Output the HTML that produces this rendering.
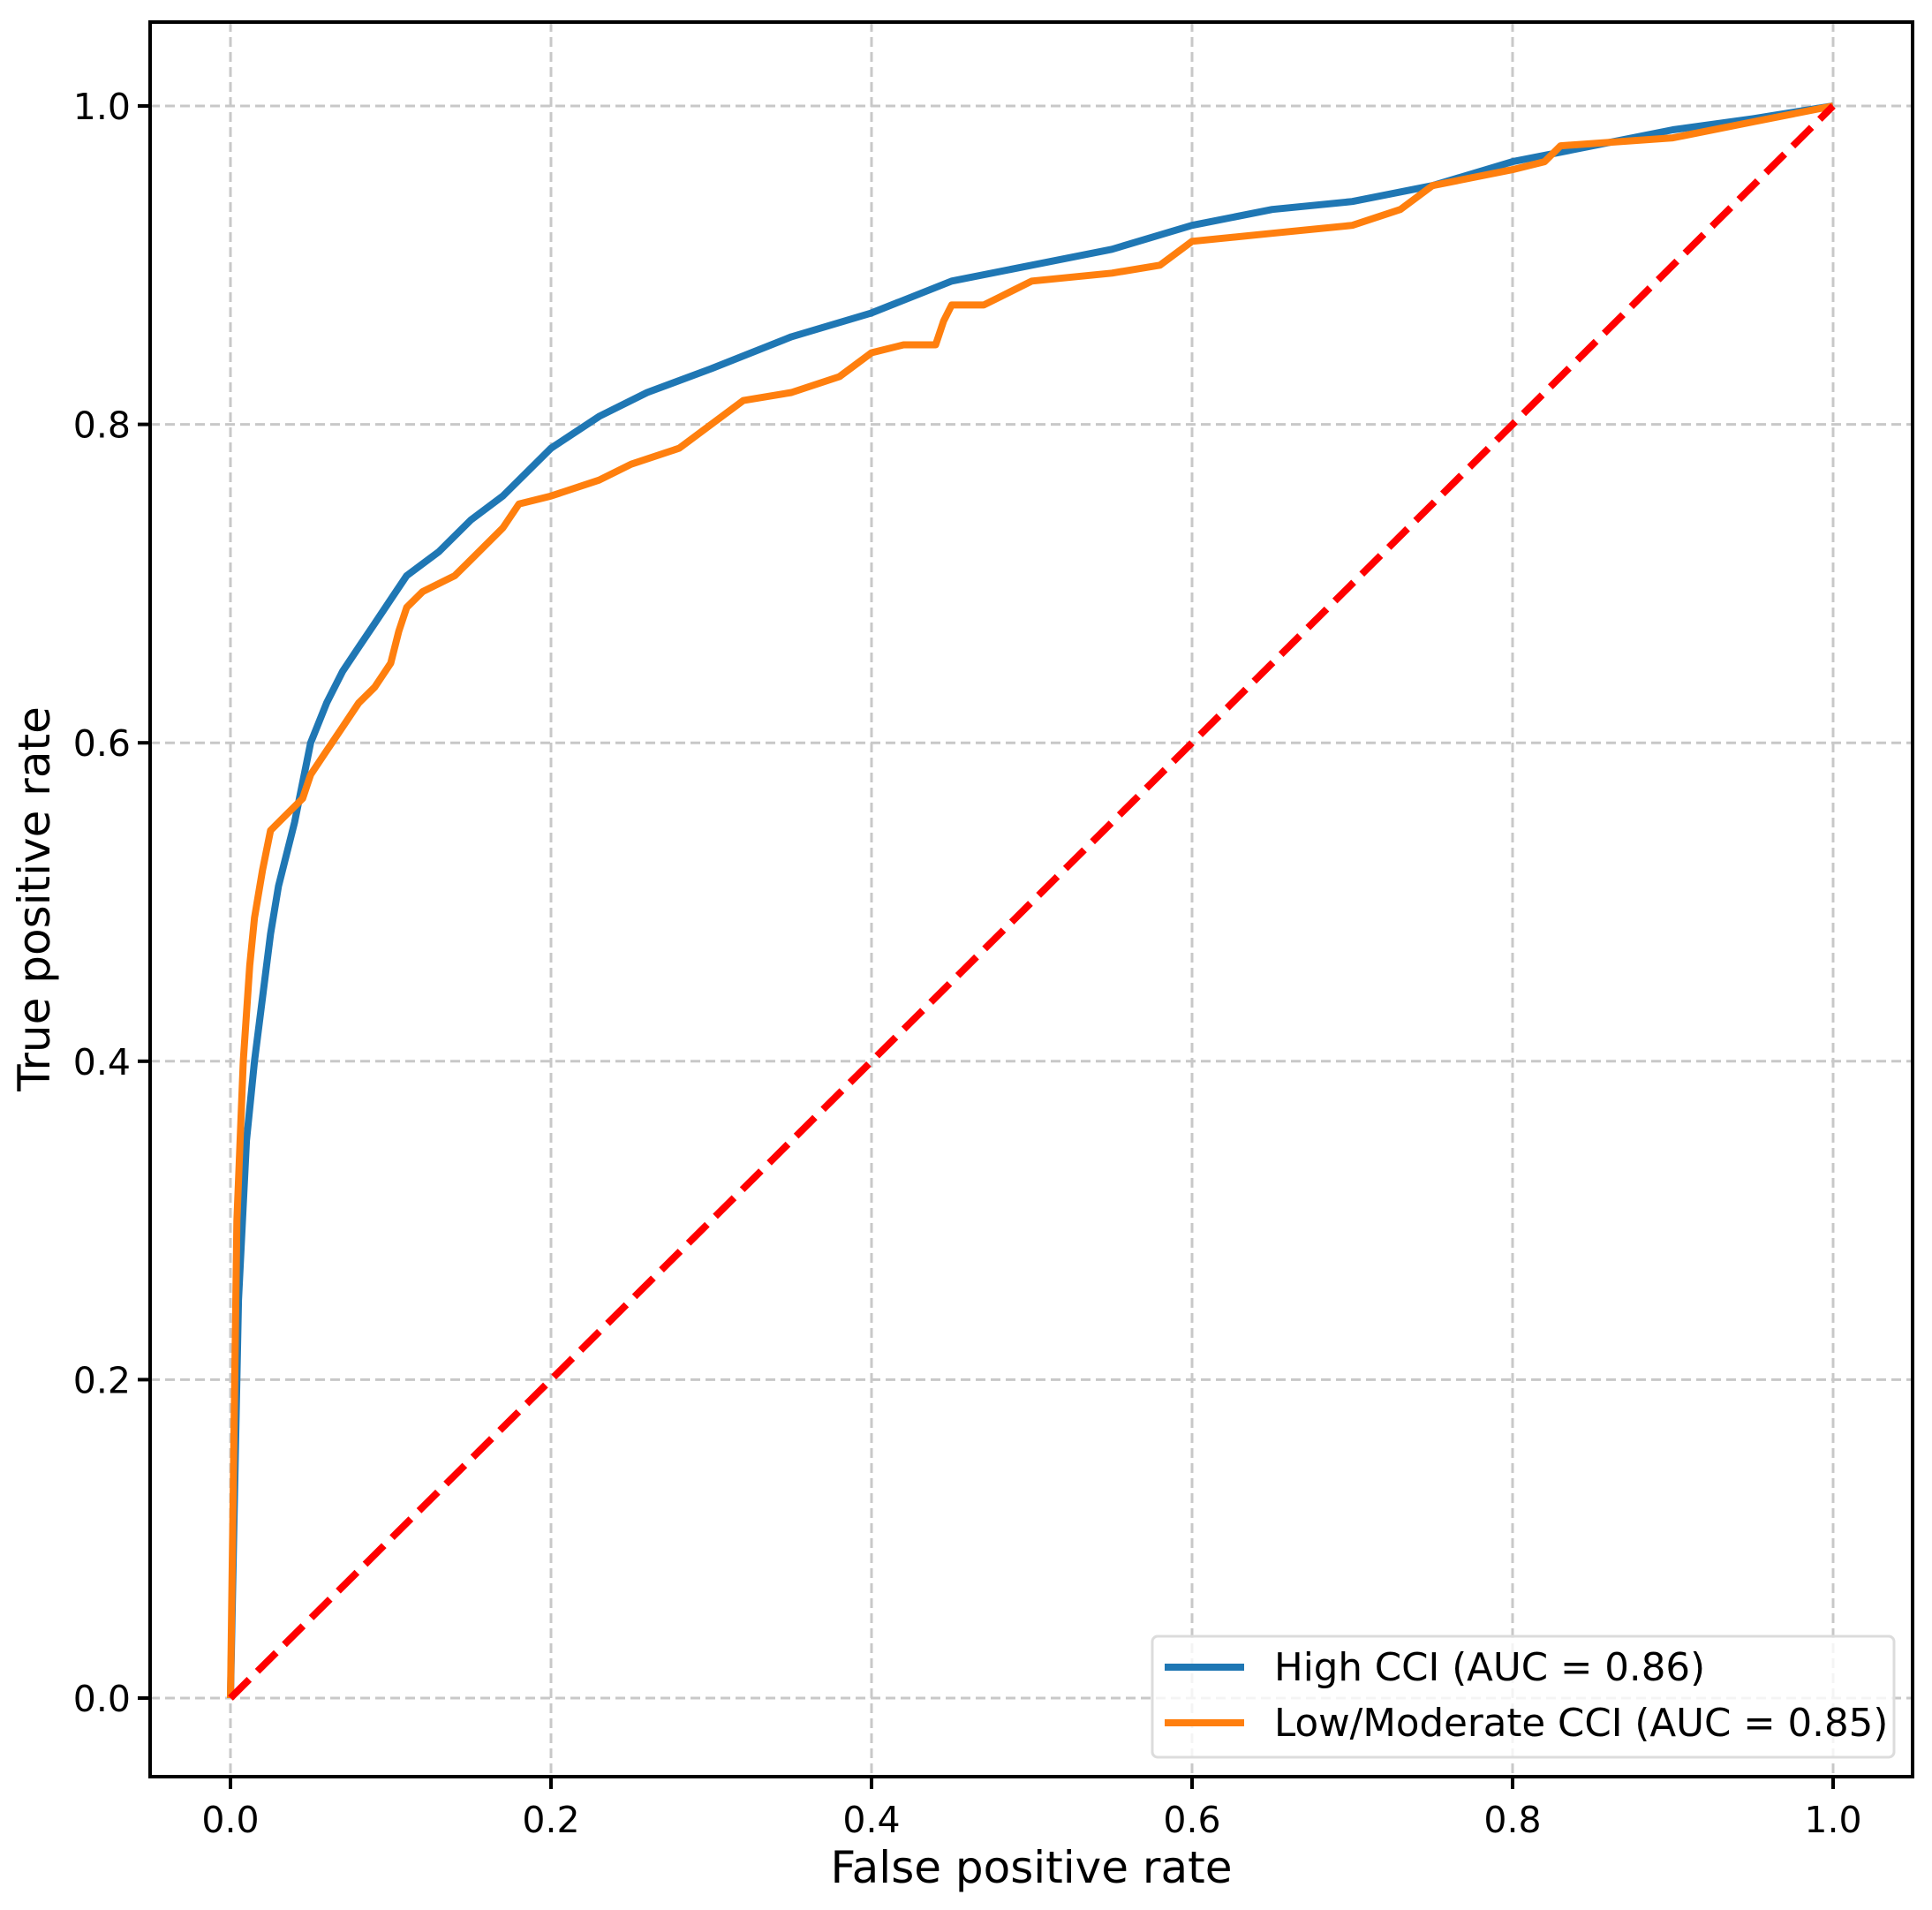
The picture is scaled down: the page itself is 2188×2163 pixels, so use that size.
<!DOCTYPE html>
<html><head><meta charset="utf-8"><style>
html,body{margin:0;padding:0;background:#fff;}
svg{display:block;font-family:"DejaVu Sans","Liberation Sans",sans-serif;}
</style></head><body>
<svg id="chart" width="2188" height="2163" xmlns="http://www.w3.org/2000/svg">
<rect width="2188" height="2163" fill="#fff"/>
</svg>
<script>
const ticks = [0, 0.2, 0.4, 0.6, 0.8, 1.0];
const tickLabels = ["0.0", "0.2", "0.4", "0.6", "0.8", "1.0"];
const highFpr = [0,0.002,0.005,0.01,0.015,0.02,0.025,0.03,0.04,0.05,0.06,0.07,0.08,0.09,0.1,0.11,0.13,0.15,0.17,0.2,0.23,0.26,0.3,0.35,0.4,0.45,0.5,0.55,0.6,0.65,0.7,0.75,0.8,0.85,0.9,0.95,1];
const highTpr = [0,0.1,0.25,0.35,0.4,0.44,0.48,0.51,0.55,0.6,0.625,0.645,0.66,0.675,0.69,0.705,0.72,0.74,0.755,0.785,0.805,0.82,0.835,0.855,0.87,0.89,0.9,0.91,0.925,0.935,0.94,0.95,0.965,0.975,0.985,0.992,1];
const lowFpr = [0,0.002,0.004,0.008,0.012,0.015,0.02,0.025,0.035,0.045,0.05,0.06,0.07,0.08,0.09,0.1,0.105,0.11,0.12,0.14,0.15,0.17,0.18,0.2,0.23,0.25,0.28,0.3,0.32,0.35,0.38,0.4,0.42,0.44,0.445,0.45,0.47,0.48,0.5,0.55,0.58,0.6,0.65,0.7,0.73,0.75,0.8,0.82,0.83,0.9,0.95,1];
const lowTpr = [0,0.15,0.3,0.4,0.46,0.49,0.52,0.545,0.555,0.565,0.58,0.595,0.61,0.625,0.635,0.65,0.67,0.685,0.695,0.705,0.715,0.735,0.75,0.755,0.765,0.775,0.785,0.8,0.815,0.82,0.83,0.845,0.85,0.85,0.865,0.875,0.875,0.88,0.89,0.895,0.9,0.915,0.92,0.925,0.935,0.95,0.96,0.965,0.975,0.98,0.99,1];
const legendLabels = ["High CCI (AUC = 0.86)", "Low/Moderate CCI (AUC = 0.85)"];

const NS = "http://www.w3.org/2000/svg";
const svg = document.getElementById("chart");
const L=170, R=2166, T=25, B=2012;
const X = v => 261 + v*(2076-261);
const Y = v => 1923 - v*(1923-120);
function mk(tag, attrs, parent){ const e=document.createElementNS(NS,tag); for(const k in attrs) e.setAttribute(k,attrs[k]); (parent||svg).appendChild(e); return e; }

ticks.forEach((t,i)=>{
  const gx = mk("line",{x1:X(t),x2:X(t),y1:T,y2:B,stroke:"#c8c8c8","stroke-width":3,"stroke-dasharray":"11,6"});
  
  
  const gy = mk("line",{x1:L,x2:R,y1:Y(t),y2:Y(t),stroke:"#c8c8c8","stroke-width":3,"stroke-dasharray":"11,6"});
  
  
});

function path(xs, ys){ return xs.map((x,i)=>(i?"L":"M")+X(x).toFixed(1)+","+Y(ys[i]).toFixed(1)).join(""); }
const hp = mk("path",{d:path(highFpr,highTpr),fill:"none",stroke:"#1f77b4","stroke-width":8,"stroke-linejoin":"round"});


const lp = mk("path",{d:path(lowFpr,lowTpr),fill:"none",stroke:"#ff7f0e","stroke-width":8,"stroke-linejoin":"round"});


const dg = mk("line",{x1:X(0),y1:Y(0),x2:X(1),y2:Y(1),stroke:"#ff0000","stroke-width":8,"stroke-dasharray":"30,13"});



const fr = mk("rect",{x:L,y:T,width:R-L,height:B-T,fill:"none",stroke:"#000","stroke-width":4});



ticks.forEach((t,i)=>{
  const tx = mk("line",{x1:X(t),x2:X(t),y1:B,y2:B+14,stroke:"#000","stroke-width":4});
  
  
  const lx = mk("text",{x:X(t),y:2075,"font-size":41,"text-anchor":"middle",fill:"#000"});
  lx.textContent = tickLabels[i];
  
  
  const ty = mk("line",{x1:L-14,x2:L,y1:Y(t),y2:Y(t),stroke:"#000","stroke-width":4});
  
  
  const ly = mk("text",{x:148,y:Y(t)+15,"font-size":41,"text-anchor":"end",fill:"#000"});
  ly.textContent = tickLabels[i];
  
  
});

const xt = mk("text",{x:(L+R)/2,y:2132,"font-size":50,"text-anchor":"middle",fill:"#000"});
xt.textContent="False positive rate";


const yt = mk("text",{x:0,y:0,"font-size":50,"text-anchor":"middle",fill:"#000",transform:"translate(56,1018) rotate(-90)"});
yt.textContent="True positive rate";



const lg = mk("g",{});


mk("rect",{x:1305,y:1853,width:840,height:137,rx:6,fill:"#fff","fill-opacity":0.8,stroke:"#dcdcdc","stroke-width":3},lg);
const colors=["#1f77b4","#ff7f0e"];
legendLabels.forEach((lab,i)=>{
  const yy = 1888 + i*63;
  const ln = mk("line",{x1:1319,x2:1409,y1:yy,y2:yy,stroke:colors[i],"stroke-width":8},lg);
  
  
  const tx = mk("text",{x:1443,y:yy+15,"font-size":43.5,fill:"#000"},lg);
  tx.textContent = lab;
  
  
});
</script>
</body></html>
